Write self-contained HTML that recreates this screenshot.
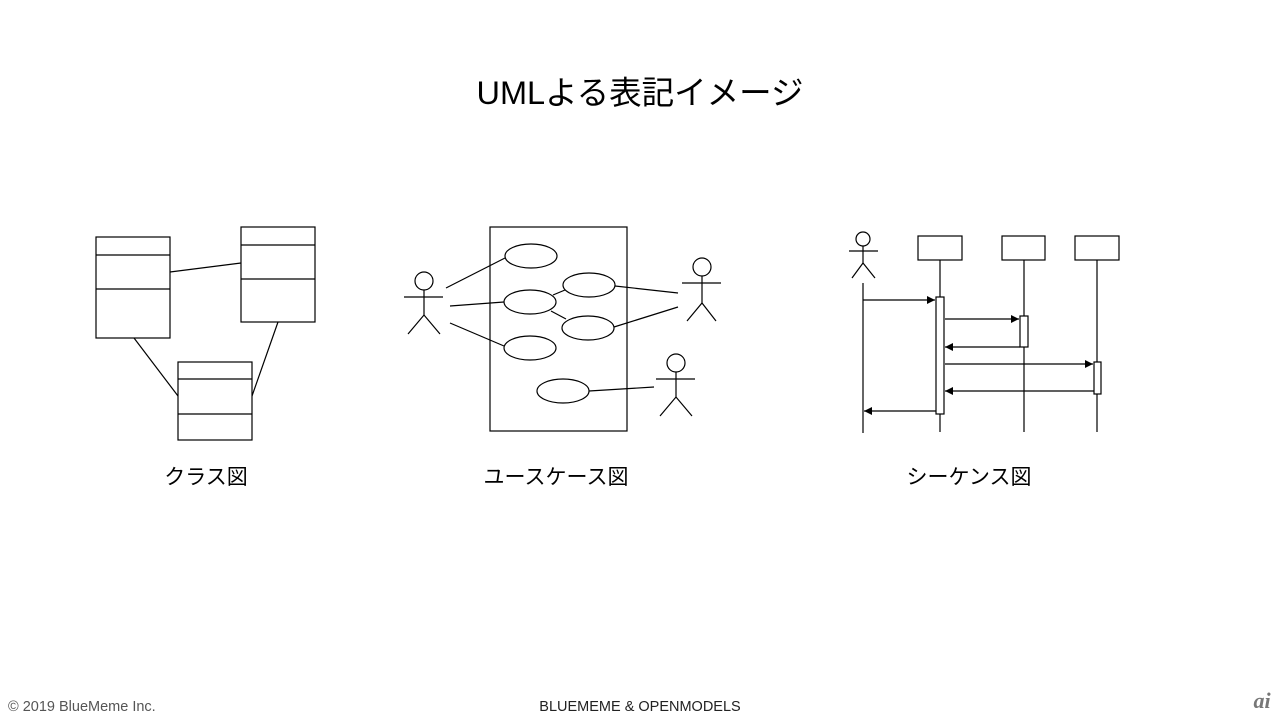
<!DOCTYPE html>
<html><head><meta charset="utf-8"><style>
html,body{margin:0;padding:0;background:#fff;width:1280px;height:720px;overflow:hidden}
</style></head><body>
<svg width="1280" height="720" xmlns="http://www.w3.org/2000/svg" style="display:block">
<defs><marker id="ah" markerWidth="10" markerHeight="10" refX="8" refY="4" orient="auto" markerUnits="userSpaceOnUse"><path d="M0,0 L8,4 L0,8 z" fill="#000"/></marker></defs>
<g font-family="'Liberation Sans','Noto Sans CJK JP',sans-serif" fill="#000">
<text x="640" y="104" font-size="32.5" text-anchor="middle">UMLよる表記イメージ</text>
<text x="206" y="484" font-size="21" text-anchor="middle">クラス図</text>
<text x="556" y="484" font-size="21" text-anchor="middle">ユースケース図</text>
<text x="969" y="484" font-size="21" text-anchor="middle">シーケンス図</text>
<text x="8" y="711" font-size="14.5" fill="#555">© 2019 BlueMeme Inc.</text>
<text x="640" y="711" font-size="14.5" text-anchor="middle" fill="#222">BLUEMEME &amp; OPENMODELS</text>
<text x="1262" y="708" font-size="22" font-style="italic" font-weight="bold" text-anchor="middle" fill="#777" font-family="'Liberation Serif',serif">ai</text>
</g>
<g fill="none" stroke="#000" stroke-width="1.2">
<rect x="96" y="237" width="74" height="101"/><line x1="96" y1="255" x2="170" y2="255"/><line x1="96" y1="289" x2="170" y2="289"/>
<rect x="241" y="227" width="74" height="95"/><line x1="241" y1="245" x2="315" y2="245"/><line x1="241" y1="279" x2="315" y2="279"/>
<rect x="178" y="362" width="74" height="78"/><line x1="178" y1="379" x2="252" y2="379"/><line x1="178" y1="414" x2="252" y2="414"/>
<line x1="170" y1="272" x2="241" y2="263"/><line x1="134" y1="338" x2="178" y2="396"/><line x1="278" y1="322" x2="252" y2="396"/>
<rect x="490" y="227" width="137" height="204"/>
<ellipse cx="531" cy="256" rx="26" ry="12"/><ellipse cx="589" cy="285" rx="26" ry="12"/><ellipse cx="530" cy="302" rx="26" ry="12"/>
<ellipse cx="588" cy="328" rx="26" ry="12"/><ellipse cx="530" cy="348" rx="26" ry="12"/><ellipse cx="563" cy="391" rx="26" ry="12"/>
<circle cx="424" cy="281" r="9"/><line x1="404" y1="297" x2="443" y2="297"/><line x1="424" y1="290" x2="424" y2="315"/><polyline points="408,334 424,315 440,334"/>
<circle cx="702" cy="267" r="9"/><line x1="682" y1="283" x2="721" y2="283"/><line x1="702" y1="276" x2="702" y2="303"/><polyline points="687,321 702,303 716,321"/>
<circle cx="676" cy="363" r="9"/><line x1="656" y1="379" x2="695" y2="379"/><line x1="676" y1="372" x2="676" y2="397"/><polyline points="660,416 676,397 692,416"/>
<line x1="446" y1="288" x2="505" y2="258"/><line x1="450" y1="306" x2="504" y2="302"/><line x1="450" y1="323" x2="504" y2="346"/>
<line x1="553" y1="295" x2="565" y2="290"/><line x1="551" y1="311" x2="566" y2="319"/>
<line x1="615" y1="286" x2="678" y2="293"/><line x1="614" y1="327" x2="678" y2="307"/><line x1="589" y1="391" x2="654" y2="387"/>
<circle cx="863" cy="239" r="7"/><line x1="849" y1="251" x2="878" y2="251"/><line x1="863" y1="246" x2="863" y2="263"/><polyline points="852,278 863,263 875,278"/>
<line x1="863" y1="283" x2="863" y2="433"/>
<rect x="918" y="236" width="44" height="24"/><rect x="1002" y="236" width="43" height="24"/><rect x="1075" y="236" width="44" height="24"/>
<line x1="940" y1="260" x2="940" y2="432"/><line x1="1024" y1="260" x2="1024" y2="432"/><line x1="1097" y1="260" x2="1097" y2="432"/>
<rect x="936" y="297" width="8" height="117" fill="#fff"/><rect x="1020" y="316" width="8" height="31" fill="#fff"/><rect x="1094" y="362" width="7" height="32" fill="#fff"/>
<g marker-end="url(#ah)">
<line x1="863" y1="300" x2="935" y2="300"/><line x1="945" y1="319" x2="1019" y2="319"/><line x1="1020" y1="347" x2="945" y2="347"/>
<line x1="945" y1="364" x2="1093" y2="364"/><line x1="1094" y1="391" x2="945" y2="391"/><line x1="936" y1="411" x2="864" y2="411"/>
</g>
</g>
</svg>
</body></html>
